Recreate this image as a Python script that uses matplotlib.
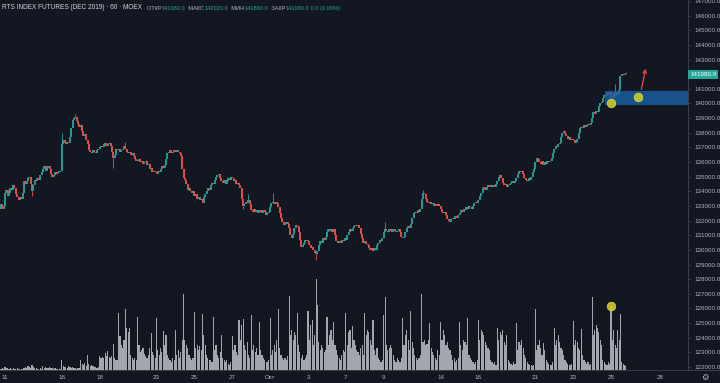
import matplotlib
matplotlib.use("Agg")
import matplotlib.pyplot as plt
from matplotlib.lines import Line2D
from matplotlib.patches import Rectangle
import numpy as np

plt.rcParams['font.family'] = ['Liberation Sans', 'DejaVu Sans']

BG = '#131722'
UP = '#26a69a'
DOWN = '#ef5350'
TXT = '#b2b5be'
HDR = '#d1d4dc'
AXIS = '#434651'
VOL = '#a5a7af'

# hourly closes, one row per trading session (first row = tail of Sep 10)
first_open = 132800
close_rows = [
    [132900, 133100, 132800, 133000],
    [133900, 134100, 133700, 133900, 134200, 134100, 134400, 134200, 133800, 133600, 133400, 133600, 133500, 133900],
    [134700, 134500, 134700, 134900, 135000, 134500, 134000, 134400, 134800, 134700, 134900, 134800, 135100, 135300],
    [135500, 135700, 135400, 135600, 135700, 135500, 135200, 135000, 135100, 135300, 135200, 135300, 135300, 135400],
    [137200, 137500, 137300, 137200, 137400, 137300, 137700, 138300, 138900, 139000, 139100, 138800, 138600, 138400],
    [138500, 138100, 137800, 137900, 137500, 137200, 136800, 136700, 136600, 136800, 136700, 136600, 136800, 136900],
    [137000, 137100, 137000, 137200, 137300, 137100, 137200, 137300, 137100, 136700, 136300, 136500, 136900, 136800],
    [136900, 136700, 136800, 136900, 137100, 136900, 136700, 136600, 136700, 136500, 136600, 136400, 136200, 136100],
    [136100, 136200, 136000, 136100, 135900, 136000, 136100, 135800, 135900, 135500, 135600, 135300, 135400, 135300],
    [135200, 135400, 135300, 135500, 135700, 135600, 135800, 136200, 136600, 136700, 136800, 136600, 136700, 136800],
    [136700, 136800, 136700, 136600, 136400, 135500, 134900, 134800, 134500, 134100, 134200, 134000, 133900, 134000],
    [133700, 133800, 133500, 133600, 133400, 133500, 133200, 133600, 133800, 134000, 134200, 134100, 134400, 134600],
    [134500, 134800, 135000, 135100, 135200, 134900, 134700, 134600, 134800, 134500, 134700, 134900, 134800, 135000],
    [134900, 134700, 134800, 134500, 134600, 134400, 134200, 133500, 133000, 133100, 133300, 133200, 133400, 133100],
    [132700, 132600, 132800, 132600, 132700, 132500, 132700, 132600, 132500, 132700, 132600, 132400, 132500, 132600],
    [132900, 133200, 133300, 133100, 133300, 133200, 132900, 132500, 132200, 131900, 131700, 131800, 131900, 131800],
    [131500, 131000, 130800, 131100, 131500, 131700, 131600, 131200, 130700, 130200, 130300, 130500, 130700, 130600],
    [130600, 130300, 130100, 130200, 130000, 129800, 129700, 129900, 130300, 130600, 130500, 130800, 130700, 130900],
    [131200, 131400, 131300, 131400, 131200, 131400, 131000, 130600, 130500, 130600, 130500, 130700, 130600, 130800],
    [130700, 131000, 131200, 131400, 131300, 131500, 131600, 131700, 131600, 131700, 131500, 131100, 130800, 130500],
    [130600, 130400, 130300, 130100, 130000, 130100, 129900, 130100, 130000, 130300, 130500, 130700, 130600, 130800],
    [131200, 131400, 131300, 131200, 131400, 131300, 131200, 131400, 131300, 131200, 131300, 131400, 131200, 130900],
    [130800, 130900, 131200, 131500, 131600, 131500, 131800, 132200, 132500, 132600, 132500, 132700, 132600, 132800],
    [133500, 133900, 133800, 133500, 133300, 133200, 133300, 133100, 133200, 133000, 133100, 133000, 133100, 133000],
    [132800, 132600, 132500, 132600, 132400, 132100, 132000, 131900, 132100, 132200, 132100, 132300, 132200, 132400],
    [132500, 132700, 132600, 132800, 132700, 132900, 132800, 133000, 132900, 132800, 133000, 133200, 133300, 133200],
    [133400, 133700, 133900, 134200, 134300, 134100, 134300, 134400, 134300, 134400, 134300, 134400, 134300, 134500],
    [134700, 135000, 135100, 134900, 134600, 134400, 134500, 134300, 134400, 134500, 134600, 134700, 134600, 134700],
    [134900, 135200, 135400, 135300, 135400, 135200, 134900, 134800, 134700, 134900, 134800, 135000, 135300, 135500],
    [136000, 136300, 136200, 136000, 135900, 136100, 135800, 136000, 135900, 136100, 136000, 136100, 136300, 136600],
    [136900, 137100, 137000, 137200, 137300, 137700, 138000, 138100, 137900, 137800, 137600, 137700, 137500, 137600],
    [137500, 137300, 137400, 137600, 138000, 138300, 138400, 138300, 138500, 138400, 138500, 138600, 138500, 138700],
    [139000, 139400, 139300, 139500, 139400, 139800, 140000, 140100, 140400, 140600, 140500, 140700, 140600, 140800],
    [140000, 140400, 140700, 140500, 140800, 140600, 140900, 141900, 142000, 141950, 142000, 141980],
]

volume_rows = [
    [2, 1, 2, 1],
    [3, 2, 2, 1, 2, 1, 2, 1, 1, 2, 1, 1, 1, 1],
    [2, 3, 2, 4, 3, 2, 5, 3, 2, 2, 1, 1, 2, 1],
    [4, 2, 3, 2, 2, 3, 2, 2, 1, 2, 1, 1, 1, 1],
    [10, 4, 3, 3, 2, 4, 3, 2, 3, 2, 2, 1, 2, 2],
    [10, 6, 5, 7, 4, 15, 6, 4, 5, 4, 3, 3, 2, 3],
    [14, 12, 13, 12, 17, 14, 19, 13, 12, 14, 26, 12, 10, 10],
    [57, 34, 25, 22, 30, 61, 42, 38, 42, 15, 12, 10, 12, 10],
    [53, 25, 18, 20, 22, 16, 14, 12, 15, 22, 37, 18, 15, 12],
    [52, 20, 15, 22, 18, 39, 25, 35, 15, 12, 10, 8, 12, 10],
    [40, 15, 20, 12, 18, 30, 76, 30, 25, 22, 15, 12, 10, 12],
    [58, 22, 25, 20, 24, 20, 56, 35, 25, 15, 12, 10, 10, 8],
    [53, 20, 25, 15, 12, 18, 35, 12, 10, 8, 10, 6, 5, 8],
    [34, 20, 25, 18, 15, 50, 30, 45, 51, 25, 20, 28, 15, 12],
    [55, 20, 25, 18, 22, 15, 48, 20, 15, 12, 10, 8, 8, 10],
    [52, 15, 20, 25, 18, 30, 61, 22, 15, 12, 10, 12, 10, 14],
    [74, 35, 40, 30, 38, 35, 57, 25, 18, 12, 15, 10, 12, 15],
    [59, 30, 45, 50, 25, 35, 91, 65, 28, 20, 25, 22, 18, 20],
    [53, 25, 35, 40, 30, 48, 25, 20, 15, 12, 10, 15, 20, 18],
    [57, 25, 38, 40, 22, 44, 30, 25, 20, 18, 15, 22, 25, 15],
    [57, 35, 40, 38, 30, 25, 50, 20, 15, 22, 12, 10, 8, 10],
    [55, 73, 25, 20, 22, 25, 22, 15, 10, 8, 12, 10, 8, 12],
    [52, 25, 35, 40, 30, 20, 59, 28, 22, 15, 12, 10, 12, 15],
    [76, 28, 30, 25, 26, 30, 47, 22, 18, 15, 12, 10, 20, 15],
    [48, 30, 40, 35, 25, 28, 22, 20, 15, 10, 12, 8, 10, 12],
    [48, 25, 20, 30, 28, 25, 52, 15, 12, 10, 8, 6, 8, 10],
    [50, 30, 40, 38, 35, 28, 25, 22, 20, 10, 8, 6, 8, 5],
    [42, 30, 38, 35, 40, 28, 25, 35, 10, 8, 6, 5, 8, 6],
    [47, 20, 28, 25, 30, 22, 15, 12, 8, 6, 5, 5, 4, 5],
    [61, 20, 25, 30, 22, 15, 27, 20, 10, 8, 6, 5, 5, 8],
    [42, 25, 30, 35, 28, 22, 20, 15, 10, 8, 6, 5, 5, 6],
    [49, 25, 30, 28, 22, 20, 41, 15, 10, 8, 6, 8, 5, 6],
    [73, 35, 40, 45, 42, 38, 30, 25, 10, 8, 6, 5, 8, 6],
    [64, 30, 40, 25, 22, 40, 30, 56, 8, 6, 5, 4],
]

# notable wicks (bar index -> extreme)
wick_highs = {46: 138000, 56: 139300, 93: 137400, 184: 133800, 202: 133900,
              285: 131900, 313: 134100, 455: 141300}
wick_lows = {24: 133700, 84: 135600, 180: 132800, 234: 129300}

date_ticks = [4, 46, 74, 116, 144, 172, 200, 228, 256, 284, 326, 354, 396, 424, 452, 488]
date_labels = ['11', '16', '18', '23', '25', '27', 'Окт', '3', '7', '9', '14', '16', '21', '23', '25', '28']

last_price = 141980
zone_start, zone_low, zone_high = 447.5, 139900, 140870
yellow_marks = [(452, 140000), (472, 140440)]
arrow_from, arrow_to = (474, 140780), (478, 142560)
vol_mark_bar = 452

header = [
    ('RTS INDEX FUTURES (DEC 2019) · 60 · MOEX', HDR, 4.7),
    ('   ОТКР', TXT, 4.1), ('141980.0', UP, 4.1),
    ('  МАКС', TXT, 4.1), ('142020.0', UP, 4.1),
    ('  МИН', TXT, 4.1), ('141860.0', UP, 4.1),
    ('  ЗАКР', TXT, 4.1), ('141980.0', UP, 4.1),
    (' 0.0 (0.00%)', UP, 4.1),
]

closes = np.array([c for row in close_rows for c in row], dtype=float)
volumes = np.array([v for row in volume_rows for v in row], dtype=float)
opens = np.concatenate([[first_open], closes[:-1]])
x = np.arange(len(closes))

fig = plt.figure(figsize=(7.2, 3.83), dpi=100, facecolor=BG)
ax = fig.add_axes([0, 13 / 383, 688 / 720, 370 / 383])
axv = ax.twinx()
ax.set_zorder(axv.get_zorder() + 1)
ax.patch.set_visible(False)
axv.set_facecolor(BG)

# volume pane (overlay at the bottom, ~quarter of the height)
axv.bar(x, volumes, width=0.85, color=VOL, linewidth=0)
axv.set_ylim(0, volumes.max() / 0.246)
axv.set_yticks([])
for s in axv.spines.values():
    s.set_visible(False)
axv.scatter([vol_mark_bar], [volumes[vol_mark_bar]], s=38, color='#cfc826', alpha=0.9,
            edgecolor='#e8e24a', linewidth=0.5, zorder=5)

# candles
lo = np.minimum(opens, closes)
hi = np.maximum(np.maximum(opens, closes), lo + 70)
colors = np.where(closes >= opens, UP, DOWN)
ax.vlines(x, lo, hi, colors=colors, linewidth=1.3)
for i, v in wick_highs.items():
    ax.vlines(i, hi[i], v, colors=colors[i], linewidth=0.6)
for i, v in wick_lows.items():
    ax.vlines(i, v, lo[i], colors=colors[i], linewidth=0.6)

ax.set_xlim(0.3, 508.9)
ax.set_ylim(121795, 147068)

# drawings
ax.add_patch(Rectangle((zone_start, zone_low), 600, zone_high - zone_low,
                       facecolor='#1a60a6', alpha=0.82, edgecolor='none', zorder=4))
for bx, by in yellow_marks:
    ax.plot(bx, by, 'o', ms=6.2, color='#cfc826', alpha=0.9, mec='#e8e24a', mew=0.5, zorder=6)
ax.annotate('', xy=arrow_to, xytext=arrow_from,
            arrowprops=dict(arrowstyle='->', color='#e84f4f', lw=0.9,
                            mutation_scale=6), zorder=6)

# price axis
price_ticks = [v for v in range(122000, 147001, 1000) if abs(v - last_price) > 500]
ax.yaxis.tick_right()
ax.set_yticks(price_ticks, [f'{v:.1f}' for v in price_ticks])
ax.tick_params(axis='y', color=AXIS, labelcolor=TXT, labelsize=4.5, length=2.5,
               width=0.5, pad=2)
ax.set_xticks(date_ticks, date_labels)
ax.tick_params(axis='x', length=0, labelcolor=TXT, labelsize=4.5, pad=3.5)
for side in ('top', 'left', 'bottom'):
    ax.spines[side].set_visible(False)
ax.spines['right'].set_color(AXIS)
ax.spines['right'].set_linewidth(0.6)
fig.add_artist(Line2D([0, 1], [13 / 383, 13 / 383], color=AXIS, lw=0.6))

ax.text(1.003, last_price, f'{last_price:.1f}', transform=ax.get_yaxis_transform(),
        ha='left', va='center', fontsize=4.5, color='white', clip_on=False,
        bbox=dict(boxstyle='square,pad=0.35', facecolor=UP, edgecolor='none'))

# header line: each piece placed right after the previous one
txt, col, fs = header[0]
prev = fig.text(2 / 720, 1 - 11 / 383, txt, color=col, fontsize=fs, va='bottom')
for txt, col, fs in header[1:]:
    prev = ax.annotate(txt, xy=(1, 0), xycoords=prev, va='bottom', ha='left',
                       color=col, fontsize=fs, annotation_clip=False)

fig.text(705 / 720, 5 / 383, '⚙', color=TXT, fontsize=6, ha='center', va='center')

fig.savefig('out.png', dpi=100, facecolor=BG)
